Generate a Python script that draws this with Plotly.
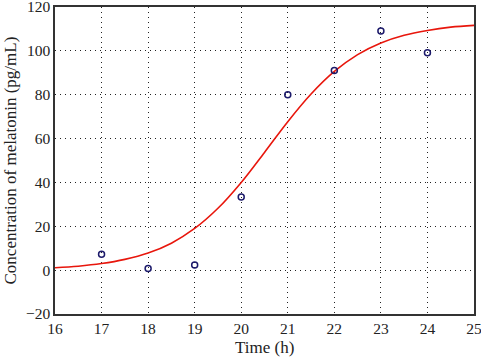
import plotly.graph_objects as go

# Measured data points
time_h = [17, 18, 19, 20, 21, 22, 23, 24]
melatonin = [7.3, 0.8, 2.3, 33.3, 80.0, 91.0, 109.0, 99.1]

# Fitted curve, values
curve_t = [16, 16.5, 17, 17.5, 18, 18.5, 19, 19.5, 20, 20.5, 21, 21.5,
           22, 22.5, 23, 23.5, 24, 24.5, 25]
curve_y = [1.1, 1.8, 3.0, 4.9, 7.8, 12.3, 19.0, 28.2, 40.0, 53.7, 67.7, 80.3,
           90.6, 98.3, 103.6, 107.1, 109.3, 110.8, 111.6]

x_ticks = [16, 17, 18, 19, 20, 21, 22, 23, 24, 25]
y_ticks = [-20, 0, 20, 40, 60, 80, 100, 120]

x_title = "Time (h)"
y_title = "Concentration of melatonin (pg/mL)"

fig = go.Figure()
fig.add_trace(go.Scatter(
    x=curve_t, y=curve_y, mode="lines",
    line=dict(color="#e8160c", width=1.6, shape="spline"),
    showlegend=False, hoverinfo="skip"))
fig.add_trace(go.Scatter(
    x=time_h, y=melatonin, mode="markers",
    marker=dict(symbol="circle-open", size=6, color="#1c1a6b",
                line=dict(width=1.5, color="#1c1a6b")),
    showlegend=False))

font_family = "Liberation Serif, DejaVu Serif, serif"
text_color = "#222222"
tick_size = 15.5
title_size = 17
axis_common = dict(
    showline=True, linecolor="#333333", linewidth=1.5, mirror=True,
    showgrid=True, gridcolor="#222222", gridwidth=1, griddash="1px,4px",
    zeroline=False, ticks="", automargin=False, ticklabeloverflow="allow",
    tickfont=dict(family=font_family, size=tick_size, color=text_color),
)

fig.update_xaxes(range=[16, 25], tickvals=x_ticks, **axis_common)
fig.update_yaxes(range=[-20, 120], tickvals=y_ticks, **axis_common)

title_font = dict(family=font_family, size=title_size, color=text_color)
fig.add_annotation(text=x_title, xref="paper", yref="paper", x=0.5, y=0,
                   xanchor="center", yanchor="middle", yshift=-33,
                   showarrow=False, font=title_font)
fig.add_annotation(text=y_title, xref="paper", yref="paper", x=0, y=0.5,
                   xanchor="center", yanchor="middle", xshift=-45, textangle=-90,
                   showarrow=False, font=title_font)

fig.update_layout(
    width=481, height=357,
    margin=dict(l=55, r=7, t=7, b=43, autoexpand=False),
    paper_bgcolor="white", plot_bgcolor="white",
    font=dict(family=font_family, size=tick_size, color=text_color),
)

fig.write_html("out.html",
               config={"displayModeBar": False},
               post_script="document.body.style.margin='0';document.body.style.overflow='hidden';")
